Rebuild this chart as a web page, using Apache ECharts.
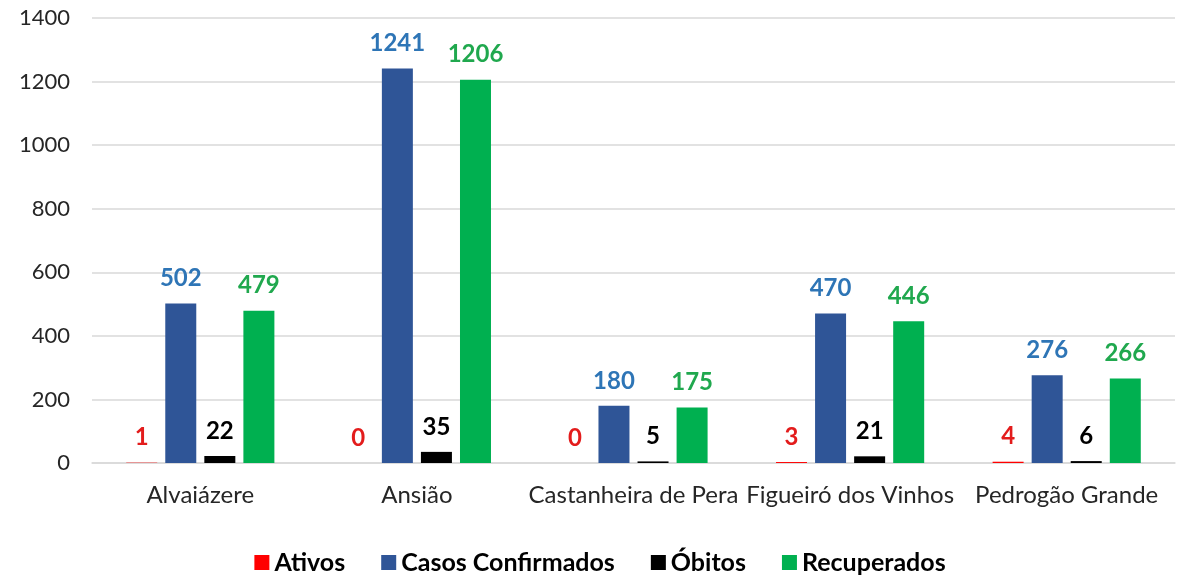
<!DOCTYPE html>
<html><head><meta charset="utf-8">
<script src="https://cdn.jsdelivr.net/npm/echarts@6/dist/echarts.min.js"></script>
<style>html,body{margin:0;padding:0;background:#fff}#c{width:1200px;height:585px}</style>
</head><body><div id="c"></div>
<script>
const categories = ['Alvaiázere','Ansião','Castanheira de Pera','Figueiró dos Vinhos','Pedrogão Grande'];
const ativos = [1, 0, 0, 3, 4];
const confirmados = [502, 1241, 180, 470, 276];
const obitos = [22, 35, 5, 21, 6];
const recuperados = [479, 1206, 175, 446, 266];
const yTicks = [0, 200, 400, 600, 800, 1000, 1200, 1400];

const font = 'Lato';
function mk(name, data, color, labelColor) {
  return {
    name, type: 'bar', data, barWidth: 31, barGap: '26%',
    itemStyle: { color },
    label: { show: true, position: 'top', distance: 13, color: labelColor, fontFamily: font, fontWeight: 'bold', fontSize: 24 }
  };
}
const chart = echarts.init(document.getElementById('c'));
chart.setOption({
  animation: false,
  grid: { left: 92, right: 25, top: 18, bottom: 122, containLabel: false },
  legend: {
    bottom: 5, itemWidth: 15, itemHeight: 15, itemGap: 36, icon: 'rect',
    textStyle: { fontFamily: font, fontWeight: 'bold', fontSize: 25, color: '#000' },
    data: ['Ativos','Casos Confirmados','Óbitos','Recuperados']
  },
  xAxis: {
    type: 'category', data: categories,
    axisLine: { lineStyle: { color: '#d9d9d9', width: 1.5 } },
    axisTick: { show: false },
    axisLabel: { interval: 0, fontFamily: font, fontSize: 24, color: '#262626', margin: 20 }
  },
  yAxis: {
    type: 'value', min: yTicks[0], max: yTicks[yTicks.length-1], interval: 200,
    axisLine: { show: false }, axisTick: { show: false },
    splitLine: { lineStyle: { color: '#d9d9d9', width: 1.5 } },
    axisLabel: { fontFamily: font, fontSize: 22, color: '#262626', margin: 22, formatter: v => String(v) }
  },
  series: [
    mk('Ativos', ativos, '#ff0000', '#e31c1c'),
    mk('Casos Confirmados', confirmados, '#2f5597', '#2e75b6'),
    mk('Óbitos', obitos, '#000000', '#000000'),
    mk('Recuperados', recuperados, '#00b050', '#20a84e')
  ]
});
</script></body></html>
